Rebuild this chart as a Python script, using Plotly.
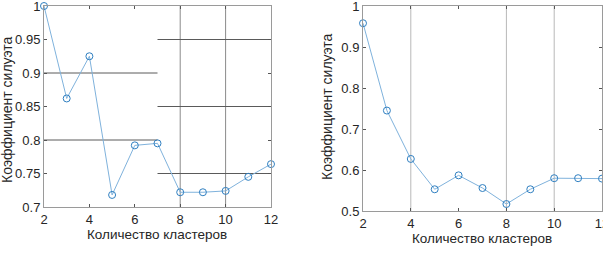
import plotly.graph_objects as go

clusters = [2, 3, 4, 5, 6, 7, 8, 9, 10, 11, 12]
sil_left = [1.0, 0.862, 0.925, 0.718, 0.792, 0.795, 0.722, 0.722, 0.724, 0.745, 0.764]
sil_right = [0.958, 0.745, 0.627, 0.553, 0.587, 0.556, 0.517, 0.553, 0.580, 0.580, 0.579]

x_ticks = [2, 4, 6, 8, 10, 12]
y_ticks_left = [0.7, 0.75, 0.8, 0.85, 0.9, 0.95, 1.0]
y_tick_text_left = ["0.7", "0.75", "0.8", "0.85", "0.9", "0.95", "1"]
y_ticks_right = [0.5, 0.6, 0.7, 0.8, 0.9, 1.0]
y_tick_text_right = ["0.5", "0.6", "0.7", "0.8", "0.9", "1"]

# visible grid fragments of the source image
left_vgrid = [8, 10]
left_hgrid_a = [0.9, 0.8]          # spanning x 2..7
left_hgrid_b = [0.95, 0.85, 0.75]  # spanning x 7..12
right_vgrid = [4, 8, 10]

x_label = "Количество кластеров"
y_label = "Коэффициент силуэта"

line_col = "#7fb2dc"
mark_col = "#2f7fc1"
font = "Liberation Sans, Arial, sans-serif"
txt_col = "#262626"

fig = go.Figure()
for vals, xa, ya in [(sil_left, "x", "y"), (sil_right, "x2", "y2")]:
    fig.add_trace(go.Scatter(
        x=clusters, y=vals, xaxis=xa, yaxis=ya, mode="lines+markers",
        line=dict(color=line_col, width=1),
        marker=dict(symbol="circle-open", size=7, color=mark_col, line=dict(width=1)),
        showlegend=False, cliponaxis=False, hoverinfo="skip"))

shapes = []
grid_dark = "#5a5a5a"
grid_mid = "#8a8a8a"
grid_light = "#b8b8b8"
for v in left_vgrid:
    shapes.append(dict(type="line", xref="x", yref="y domain", x0=v, x1=v, y0=0, y1=1,
                       line=dict(color=grid_mid, width=1), layer="below"))
for h in left_hgrid_a:
    shapes.append(dict(type="line", xref="x", yref="y", x0=clusters[0], x1=7, y0=h, y1=h,
                       line=dict(color=grid_dark, width=1), layer="below"))
for h in left_hgrid_b:
    shapes.append(dict(type="line", xref="x", yref="y", x0=7, x1=clusters[-1], y0=h, y1=h,
                       line=dict(color=grid_dark, width=1), layer="below"))
for v in right_vgrid:
    shapes.append(dict(type="line", xref="x2", yref="y2 domain", x0=v, x1=v, y0=0, y1=1,
                       line=dict(color=grid_light, width=1), layer="below"))

ax_common = dict(showgrid=False, zeroline=False, showline=True, linecolor="#9a9a9a",
                 linewidth=1, mirror="ticks", ticks="inside", ticklen=3,
                 tickcolor="#555555", automargin=False, ticklabeloverflow="allow",
                 tickfont=dict(family=font, size=13, color=txt_col))

fig.update_layout(
    width=603, height=259, margin=dict(l=0, r=0, t=0, b=0),
    paper_bgcolor="white", plot_bgcolor="white",
    xaxis=dict(domain=[44/603, 271/603], range=[2, 12], tickvals=x_ticks, anchor="y", **ax_common),
    yaxis=dict(domain=[1-207/259, 1-6/259], range=[0.7, 1.0], tickvals=y_ticks_left,
               ticktext=y_tick_text_left, anchor="x", **ax_common),
    xaxis2=dict(domain=[363/603, 602/603], range=[2, 12], tickvals=x_ticks, anchor="y2", **ax_common),
    yaxis2=dict(domain=[1-211/259, 1-6/259], range=[0.5, 1.0], tickvals=y_ticks_right,
                ticktext=y_tick_text_right, anchor="x2", **ax_common),
    shapes=shapes,
    annotations=[
        dict(text=x_label, xref="paper", yref="paper", x=157/603, y=1-234/259, showarrow=False,
             xanchor="center", yanchor="middle", font=dict(family=font, size=13.5, color=txt_col)),
        dict(text=x_label, xref="paper", yref="paper", x=482/603, y=1-238/259, showarrow=False,
             xanchor="center", yanchor="middle", font=dict(family=font, size=13.5, color=txt_col)),
        dict(text=y_label, xref="paper", yref="paper", x=7/603, y=1-110/259, showarrow=False,
             textangle=-90, xanchor="center", yanchor="middle", font=dict(family=font, size=14, color=txt_col)),
        dict(text=y_label, xref="paper", yref="paper", x=327/603, y=1-107/259, showarrow=False,
             textangle=-90, xanchor="center", yanchor="middle", font=dict(family=font, size=14, color=txt_col)),
    ],
)

fig.write_html("out.html", config={"displayModeBar": False, "staticPlot": True},
               post_script="document.body.style.margin='0';document.body.style.overflow='hidden';")
